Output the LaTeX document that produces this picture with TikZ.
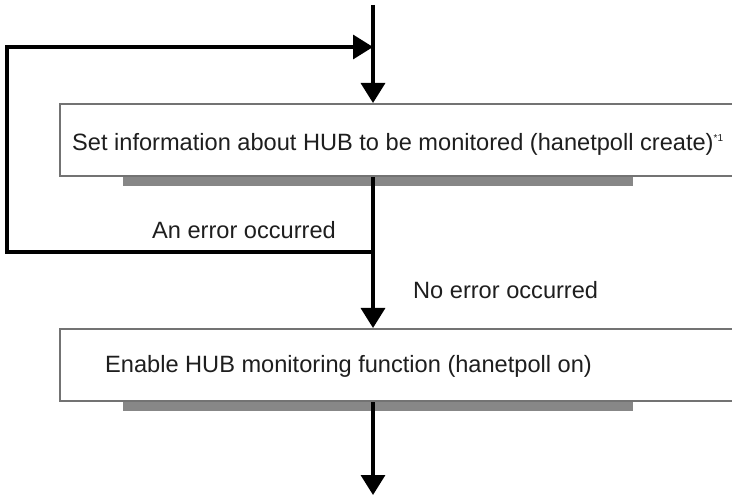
\documentclass[tikz,border=0pt]{standalone}
\usepackage{fontspec}
\setmainfont{Liberation Sans}
\usetikzlibrary{arrows.meta}
\definecolor{boxgray}{HTML}{737373}
\definecolor{shadowgray}{HTML}{878787}
\definecolor{txt}{HTML}{1E1E1E}
\tikzset{
  stepbox/.style={draw=boxgray, line width=2.4pt, fill=white, rectangle, inner sep=0pt,
    minimum width=700pt, minimum height=72pt, anchor=north west},
  shadowbar/.style={fill=shadowgray, draw=none, rectangle, inner sep=0pt,
    minimum width=510pt, minimum height=10pt, anchor=north west},
  lbl/.style={anchor=base west, inner sep=0pt, text=txt, font=\fontsize{23.6}{27}\selectfont},
  flow/.style={line width=3.4pt, draw=black},
  tip/.style={-{Triangle[width=24pt,length=20pt]}}
}
\begin{document}
\begin{tikzpicture}[x=1pt,y=-1pt]
\useasboundingbox (0,0) rectangle (732,497);
\clip (0,0) rectangle (732,497);
% shadows
\node[shadowbar] (s1) at (123,176) {};
\node[shadowbar] (s2) at (123,401) {};
% boxes
\node[stepbox] (b1) at (59,103) {};
\node[stepbox] (b2) at (59,328) {};
% texts
\node[lbl] (t1) at (72,151) {Set information about HUB to be monitored (hanetpoll create)\raisebox{9pt}{\fontsize{10}{10}\selectfont *1}};
\node[lbl] (t2) at (105,373) {Enable HUB monitoring function (hanetpoll on)};
\node[lbl] (t3) at (152,239) {An error occurred};
\node[lbl] (t4) at (413,299) {No error occurred};
% coordinates
\coordinate (top) at (373,5);
\coordinate (merge) at (373,47);
\coordinate (split) at (373,252);
\coordinate (corner) at (7,252);
\coordinate (bottom) at (373,495);
% connectors
\draw[flow,tip] (top) -- (top |- b1.north);
\draw[flow] (top |- b1.south) -- (split);
\draw[flow,tip] (split) -- (top |- b2.north);
\draw[flow,tip,line join=miter] (split) -- (corner) |- (merge);
\draw[flow,tip] (top |- b2.south) -- (bottom);
\end{tikzpicture}
\end{document}
